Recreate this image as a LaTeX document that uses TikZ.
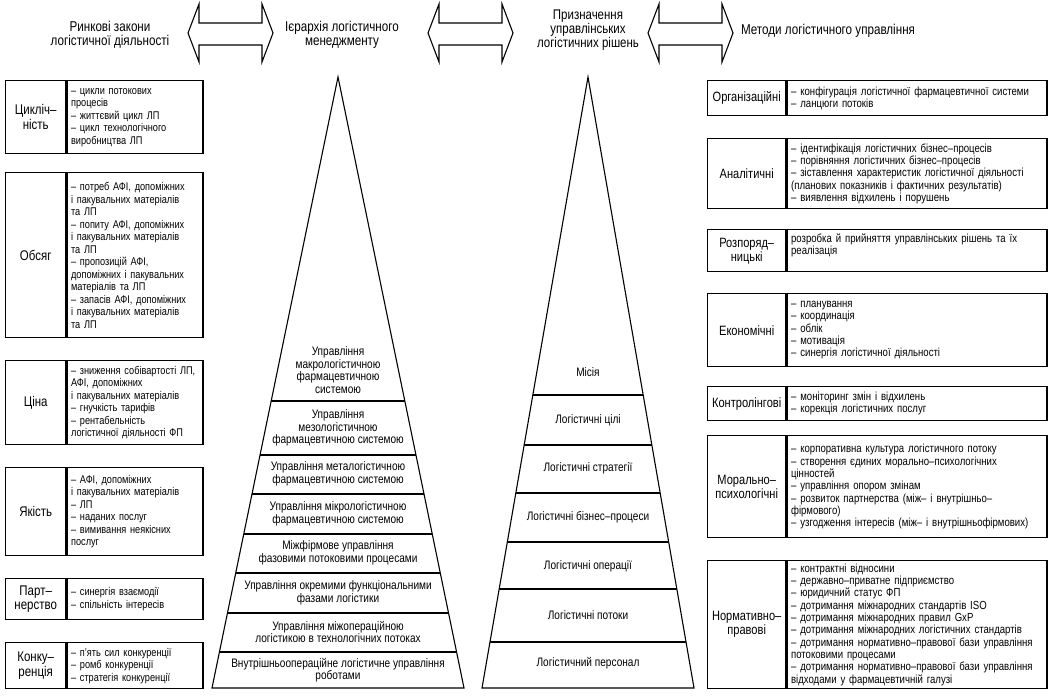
\documentclass[tikz,border=0pt]{standalone}
\usepackage{fontspec}
\setmainfont{Liberation Sans}[FakeStretch=0.82]
\usetikzlibrary{positioning,calc}
\tikzset{
  hdr/.style={align=center, inner sep=0pt, font=\fontsize{14.2}{14}\selectfont},
  lawK/.style={draw, line width=1.4pt, inner xsep=0pt, inner ysep=1pt, align=center, text width=60, font=\fontsize{14}{14.5}\selectfont},
  lawT/.style={draw, line width=1.4pt, inner xsep=4pt, inner ysep=2pt, align=left, text width=128, font=\fontsize{11.2}{12.5}\selectfont},
  metK/.style={lawK, text width=78, font=\fontsize{13.5}{14}\selectfont},
  metT/.style={lawT, inner xsep=4pt, text width=252, font=\fontsize{11.7}{12.3}\selectfont},
  lvl/.style={align=center, inner sep=0pt, font=\fontsize{12.3}{12.4}\selectfont},
  pyr/.style={line width=1.1pt, line join=miter},
  barr/.style={line width=1.1pt, line join=miter},
}
\begin{document}
\begin{tikzpicture}[x=1pt, y=-1pt]
\useasboundingbox (0,0) rectangle (1051,696);

% top headings and double arrows
\node[hdr] (hLaws) at (110,35) {Ринкові закони\\логістичної діяльності};
\node[hdr] (hHier) at (342,35) {Ієрархія логістичного\\менеджменту};
\node[hdr, font=\fontsize{14}{12.2}\selectfont] (hAim) at (588,30) {Призначення\\управлінських\\логістичних рішень};
\node[hdr] (hMeth) at (828,31) {Методи логістичного управління};
\foreach \x in {188,428,648}
  \draw[barr] (\x,33) -- ++(11,-29) -- ++(0,19) -- ++(63,0) -- ++(0,-19) -- ++(11,29)
    -- ++(-11,29) -- ++(0,-17) -- ++(-63,0) -- ++(0,17) -- cycle;

% market laws (left column)
\node[lawK, minimum height=73, anchor=north west] (cycK) at (5,80) {Цикліч–\\ність};
\node[lawT, minimum height=73, right=0pt of cycK] (cycT) {– цикли потокових\\процесів\\– життєвий цикл ЛП\\– цикл технологічного\\виробництва ЛП};

\node[lawK, minimum height=165, anchor=north west] (volK) at (5,172) {Обсяг};
\node[lawT, minimum height=165, right=0pt of volK] (volT) {– потреб АФІ, допоміжних\\і пакувальних матеріалів\\та ЛП\\– попиту АФІ, допоміжних\\і пакувальних матеріалів\\та ЛП\\– пропозицій АФІ,\\допоміжних і пакувальних\\матеріалів та ЛП\\– запасів АФІ, допоміжних\\і пакувальних матеріалів\\та ЛП};

\node[lawK, minimum height=84, anchor=north west] (prcK) at (5,360) {Ціна};
\node[lawT, minimum height=84, right=0pt of prcK] (prcT) {– зниження собівартості ЛП,\\АФІ, допоміжних\\і пакувальних матеріалів\\– гнучкість тарифів\\– рентабельність\\логістичної діяльності ФП};

\node[lawK, minimum height=88, anchor=north west] (qltK) at (5,467) {Якість};
\node[lawT, minimum height=88, right=0pt of qltK] (qltT) {– АФІ, допоміжних\\і пакувальних матеріалів\\– ЛП\\– наданих послуг\\– вимивання неякісних\\послуг};

\node[lawK, minimum height=41, anchor=north west] (prtK) at (5,578) {Парт–\\нерство};
\node[lawT, minimum height=41, right=0pt of prtK] (prtT) {– синергія взаємодії\\– спільність інтересів};

\node[lawK, minimum height=46, anchor=north west] (cmpK) at (5,642) {Конку–\\ренція};
\node[lawT, minimum height=46, right=0pt of cmpK] (cmpT) {– п’ять сил конкуренції\\– ромб конкуренції\\– стратегія конкуренції};

% hierarchy pyramid
\coordinate (hTop) at (338,77);
\coordinate (hBL) at (212,688);
\coordinate (hBR) at (464,688);
\draw[pyr] (hBL) -- (hTop) -- (hBR) -- cycle;
\foreach \y in {401,455,494,534,573,613,652}
  \draw[pyr] ($(hTop)!{(\y-77)/611}!(hBL)$) -- ($(hTop)!{(\y-77)/611}!(hBR)$);
\node[lvl] (h1) at (338,370) {Управління\\макрологістичною\\фармацевтичною\\системою};
\node[lvl] (h2) at (338,428) {Управління\\мезологістичною\\фармацевтичною системою};
\node[lvl] (h3) at (338,474) {Управління металогістичною\\фармацевтичною системою};
\node[lvl] (h4) at (338,514) {Управління мікрологістичною\\фармацевтичною системою};
\node[lvl] (h5) at (338,553) {Міжфірмове управління\\фазовими потоковими процесами};
\node[lvl] (h6) at (338,593) {Управління окремими функціональними\\фазами логістики};
\node[lvl] (h7) at (338,632) {Управління міжопераційною\\логістикою в технологічних потоках};
\node[lvl] (h8) at (338,670) {Внутрішньоопераційне логістичне управління\\роботами};

% decisions pyramid
\coordinate (dTop) at (588,77);
\coordinate (dBL) at (482,688);
\coordinate (dBR) at (694,688);
\draw[pyr] (dBL) -- (dTop) -- (dBR) -- cycle;
\foreach \y in {395,445,493,542,589,642}
  \draw[pyr] ($(dTop)!{(\y-77)/611}!(dBL)$) -- ($(dTop)!{(\y-77)/611}!(dBR)$);
\node[lvl] (d1) at (588,372) {Місія};
\node[lvl] (d2) at (588,420) {Логістичні цілі};
\node[lvl] (d3) at (588,468) {Логістичні стратегії};
\node[lvl] (d4) at (588,517) {Логістичні бізнес–процеси};
\node[lvl] (d5) at (588,566) {Логістичні операції};
\node[lvl] (d6) at (588,615) {Логістичні потоки};
\node[lvl] (d7) at (588,663) {Логістичний персонал};

% management methods (right column)
\node[metK, minimum height=35, anchor=north west] (orgK) at (707,80) {Організаційні};
\node[metT, minimum height=35, right=0pt of orgK] (orgT) {– конфігурація логістичної фармацевтичної системи\\– ланцюги потоків};

\node[metK, minimum height=70, anchor=north west] (anlK) at (707,138) {Аналітичні};
\node[metT, minimum height=70, right=0pt of anlK] (anlT) {– ідентифікація логістичних бізнес–процесів\\– порівняння логістичних бізнес–процесів\\– зіставлення характеристик логістичної діяльності\\(планових показників і фактичних результатів)\\– виявлення відхилень і порушень};

\node[metK, minimum height=42, anchor=north west] (dspK) at (707,229) {Розпоряд–\\ницькі};
\node[metT, minimum height=42, right=0pt of dspK] (dspT) {};
\node[metT, draw=none, inner ysep=4pt, anchor=north west] (dspX) at (dspT.north west) {розробка й прийняття управлінських рішень та їх\\реалізація};

\node[metK, minimum height=73, anchor=north west] (ecoK) at (707,293) {Економічні};
\node[metT, minimum height=73, right=0pt of ecoK] (ecoT) {– планування\\– координація\\– облік\\– мотивація\\– синергія логістичної діяльності};

\node[metK, minimum height=34, anchor=north west] (ctlK) at (707,386) {Контролінгові};
\node[metT, minimum height=34, right=0pt of ctlK] (ctlT) {– моніторинг змін і відхилень\\– корекція логістичних послуг};

\node[metK, minimum height=102, anchor=north west] (morK) at (707,435) {Морально–\\психологічні};
\node[metT, minimum height=102, right=0pt of morK] (morT) {– корпоративна культура логістичного потоку\\– створення єдиних морально–психологічних\\цінностей\\– управління опором змінам\\– розвиток партнерства (між– і внутрішньо–\\фірмового)\\– узгодження інтересів (між– і внутрішньофірмових)};

\node[metK, minimum height=128, anchor=north west] (nrmK) at (707,560) {Нормативно–\\правові};
\node[metT, minimum height=128, right=0pt of nrmK] (nrmT) {– контрактні відносини\\– державно–приватне підприємство\\– юридичний статус ФП\\– дотримання міжнародних стандартів ISO\\– дотримання міжнародних правил GxP\\– дотримання міжнародних логістичних стандартів\\– дотримання нормативно–правової бази управління\\потоковими процесами\\– дотримання нормативно–правової бази управління\\відходами у фармацевтичній галузі};
\end{tikzpicture}
\end{document}
